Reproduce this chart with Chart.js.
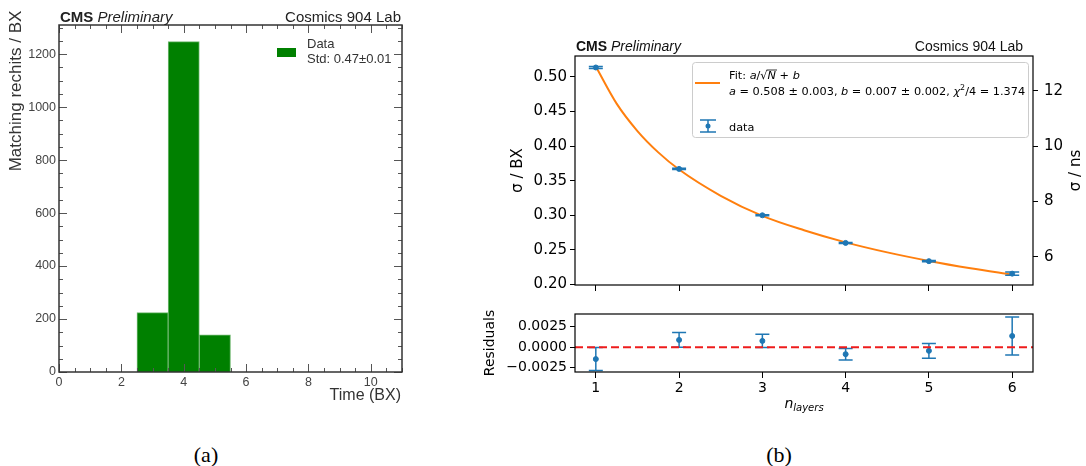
<!DOCTYPE html>
<html>
<head>
<meta charset="utf-8">
<script src="https://cdn.jsdelivr.net/npm/chart.js@4.4.0/dist/chart.umd.min.js"></script>
<style>
  body { margin: 0; background: #fff; width: 1086px; height: 466px; overflow: hidden; position: relative; }
  .box { position: absolute; }
  .cap { position: absolute; font-family: "Liberation Serif", serif; font-size: 22px; line-height: 22px; color: #000; transform: translateX(-50%); }
</style>
</head>
<body>
<div class="box" style="left:0;top:0;width:430px;height:420px"><canvas id="histo"></canvas></div>
<div class="box" style="left:470px;top:30px;width:616px;height:270px"><canvas id="sigma"></canvas></div>
<div class="box" style="left:470px;top:300px;width:616px;height:130px"><canvas id="resid"></canvas></div>
<div class="cap" style="left:206px;top:444px">(a)</div>
<div class="cap" style="left:779px;top:444px">(b)</div>

<script>
// (a) timing of matching rechits, one bin per BX
const binCentres = [3, 4, 5];
const binCounts = [224, 1247, 140];
const histXTicks = [0, 2, 4, 6, 8, 10];
const histYTicks = [0, 200, 400, 600, 800, 1000, 1200];

// (b) time resolution vs number of layers
const nLayers = [1, 2, 3, 4, 5, 6];
const sigmaBX = [0.5136, 0.3671, 0.3001, 0.2602, 0.2338, 0.2158];
const sigmaErr = [0.0014, 0.0009, 0.0008, 0.0007, 0.0009, 0.0023];
const residuals = [-0.00145, 0.00088, 0.00076, -0.00085, -0.00045, 0.00136];

// fit curve a/sqrt(N)+b
const fitX = [1, 1.25, 1.5, 1.75, 2, 2.5, 3, 3.5, 4, 4.5, 5, 5.5, 6];
const fitY = [0.5150, 0.4614, 0.4218, 0.3910, 0.3662, 0.3283, 0.2993, 0.2785, 0.2610, 0.2465, 0.2342, 0.2236, 0.2144];

// ticks and ranges
const nTicks = [1, 2, 3, 4, 5, 6];
const sigmaTicks = [0.20, 0.25, 0.30, 0.35, 0.40, 0.45, 0.50];
const nsTicks = [6, 8, 10, 12];
const residTicks = [-0.0025, 0, 0.0025];
const nRange = [0.75, 6.25];
const sigmaRange = [0.1994, 0.5302];
const residRange = [-0.00302, 0.00403];
const nsPerBX = 25;

Chart.defaults.animation = false;
Chart.defaults.devicePixelRatio = 1;

const MPL = '"DejaVu Sans"';
const ROOTF = '"Liberation Sans"';
const LEFT_B = 105; // width of the left axis column in panel (b)

function isStep(v, step) {
  return Math.abs(v / step - Math.round(v / step)) < 1e-6;
}
const setTicks = arr => s => { s.ticks = arr.map(v => ({ value: v })); };

// draw a row of text pieces with different fonts, returns end x
function textRun(ctx, x, y, parts) {
  for (const p of parts) {
    ctx.font = p.font;
    const dy = p.dy || 0;
    ctx.fillText(p.t, x, y + dy);
    const w = ctx.measureText(p.t).width;
    if (p.bar) {
      ctx.beginPath();
      ctx.lineWidth = 0.8;
      ctx.moveTo(x - 1, y - 9);
      ctx.lineTo(x + w + 1, y - 9);
      ctx.stroke();
    }
    x += w;
  }
  return x;
}

function errorBars(chart, meta, values, errs, capHalf) {
  const ctx = chart.ctx;
  const ys = chart.scales.y;
  ctx.save();
  ctx.strokeStyle = '#1f77b4';
  ctx.lineWidth = 1.5;
  meta.data.forEach((pt, i) => {
    const top = ys.getPixelForValue(values[i] + errs[i]);
    const bot = ys.getPixelForValue(values[i] - errs[i]);
    ctx.beginPath();
    ctx.moveTo(pt.x, top); ctx.lineTo(pt.x, bot);
    ctx.moveTo(pt.x - capHalf, top); ctx.lineTo(pt.x + capHalf, top);
    ctx.moveTo(pt.x - capHalf, bot); ctx.lineTo(pt.x + capHalf, bot);
    ctx.stroke();
  });
  ctx.restore();
}

// ---------- (a) histogram ----------
const histDecor = {
  id: 'histDecor',
  afterDraw(chart) {
    const { ctx, chartArea: a, scales: { x, y } } = chart;
    ctx.save();
    // ticks inside on all four sides
    ctx.strokeStyle = '#555';
    ctx.lineWidth = 1;
    ctx.beginPath();
    for (let v = 0; v <= x.max + 1e-9; v += 0.5) {
      const px = Math.round(x.getPixelForValue(v)) + 0.5;
      const len = isStep(v, 2) ? 8 : 4;
      ctx.moveTo(px, a.bottom); ctx.lineTo(px, a.bottom - len);
      ctx.moveTo(px, a.top); ctx.lineTo(px, a.top + len);
    }
    for (let v = 0; v <= y.max + 1e-9; v += 50) {
      const py = Math.round(y.getPixelForValue(v)) + 0.5;
      const len = isStep(v, 200) ? 8 : 4;
      ctx.moveTo(a.left, py); ctx.lineTo(a.left + len, py);
      ctx.moveTo(a.right, py); ctx.lineTo(a.right - len, py);
    }
    ctx.stroke();
    // frame
    ctx.strokeStyle = '#333';
    ctx.lineWidth = 1.5;
    ctx.strokeRect(a.left, a.top, a.right - a.left, a.bottom - a.top);

    // header
    ctx.fillStyle = '#222';
    ctx.textBaseline = 'alphabetic';
    ctx.textAlign = 'left';
    textRun(ctx, a.left + 1, a.top - 3, [
      { t: 'CMS', font: 'bold 15px ' + ROOTF },
      { t: ' Preliminary', font: 'italic 15px ' + ROOTF }
    ]);
    ctx.textAlign = 'right';
    ctx.font = '15px ' + ROOTF;
    ctx.fillText('Cosmics 904 Lab', a.right - 1, a.top - 3);

    // axis titles
    ctx.fillStyle = '#333';
    ctx.textBaseline = 'middle';
    ctx.font = '16px ' + ROOTF;
    ctx.textAlign = 'right';
    ctx.fillText('Time (BX)', a.right - 1, a.bottom + 24);
    ctx.save();
    ctx.translate(a.left - 43, a.top + 66);
    ctx.rotate(-Math.PI / 2);
    ctx.textAlign = 'center';
    ctx.font = '17px ' + ROOTF;
    ctx.fillText('Matching rechits / BX', 0, 0);
    ctx.restore();

    // legend
    ctx.fillStyle = '#008000';
    ctx.fillRect(a.left + 218, a.top + 23, 19, 9);
    ctx.fillStyle = '#333';
    ctx.textAlign = 'left';
    ctx.font = '13px ' + ROOTF;
    ctx.fillText('Data', a.left + 248, a.top + 19);
    ctx.fillText('Std: 0.47±0.01', a.left + 248, a.top + 34);
    ctx.restore();
  }
};

new Chart(document.getElementById('histo'), {
  type: 'bar',
  data: {
    datasets: [{
      data: binCentres.map((c, i) => ({ x: c, y: binCounts[i] })),
      backgroundColor: '#008000',
      borderColor: '#70b870',
      borderWidth: 1,
      barPercentage: 1,
      categoryPercentage: 1
    }]
  },
  options: {
    responsive: true,
    maintainAspectRatio: false,
    layout: { padding: { top: 25, right: 28, left: 0, bottom: 0 } },
    plugins: { legend: { display: false }, tooltip: { enabled: false } },
    scales: {
      x: {
        type: 'linear', min: 0, max: 11, offset: false,
        grid: { display: false, drawTicks: false, tickLength: 0 }, border: { display: false },
        ticks: { padding: 3, color: '#444', font: { family: 'Liberation Sans', size: 12.5 }, callback: v => String(v) },
        afterBuildTicks: setTicks(histXTicks),
        afterFit: s => { s.height = 48; }
      },
      y: {
        min: 0, max: 1310,
        grid: { display: false, drawTicks: false, tickLength: 0 }, border: { display: false },
        ticks: { padding: 3, color: '#444', font: { family: 'Liberation Sans', size: 12.5 }, callback: v => String(v) },
        afterBuildTicks: setTicks(histYTicks),
        afterFit: s => { s.width = 59; }
      }
    }
  },
  plugins: [histDecor]
});

// ---------- (b) upper: sigma vs n layers ----------
const sigmaDecor = {
  id: 'sigmaDecor',
  afterDatasetDraw(chart, args) {
    if (args.index === 0) errorBars(chart, args.meta, sigmaBX, sigmaErr, 7);
  },
  afterDraw(chart) {
    const { ctx, chartArea: a } = chart;
    ctx.save();
    ctx.strokeStyle = '#000';
    ctx.lineWidth = 1.2;
    ctx.strokeRect(a.left, a.top, a.right - a.left, a.bottom - a.top);

    // header
    ctx.fillStyle = '#111';
    ctx.textBaseline = 'alphabetic';
    ctx.textAlign = 'left';
    textRun(ctx, a.left + 1, a.top - 5, [
      { t: 'CMS', font: 'bold 14px ' + ROOTF },
      { t: ' Preliminary', font: 'italic 14px ' + ROOTF }
    ]);
    ctx.textAlign = 'right';
    ctx.font = '14px ' + ROOTF;
    ctx.fillText('Cosmics 904 Lab', a.right - 10, a.top - 5);

    // axis titles
    ctx.fillStyle = '#000';
    ctx.textAlign = 'center';
    ctx.textBaseline = 'middle';
    ctx.font = '15px ' + MPL;
    const cy = (a.top + a.bottom) / 2;
    ctx.save();
    ctx.translate(a.left - 57, cy);
    ctx.rotate(-Math.PI / 2);
    ctx.fillText('σ / BX', 0, 0);
    ctx.restore();
    ctx.save();
    ctx.translate(a.right + 43, cy);
    ctx.rotate(-Math.PI / 2);
    ctx.fillText('σ / ns', 0, 0);
    ctx.restore();

    // legend
    const lx = a.left + 117, ly = a.top + 6, lw = a.right - 5 - lx, lh = 75;
    ctx.fillStyle = 'rgba(255,255,255,0.85)';
    ctx.strokeStyle = '#cccccc';
    ctx.lineWidth = 1;
    ctx.beginPath();
    ctx.roundRect(lx + 0.5, ly + 0.5, lw, lh, 3);
    ctx.fill();
    ctx.stroke();

    ctx.strokeStyle = '#ff7f0e';
    ctx.lineWidth = 2;
    ctx.beginPath();
    ctx.moveTo(lx + 3, a.top + 27); ctx.lineTo(lx + 28, a.top + 27);
    ctx.stroke();

    ctx.fillStyle = '#000';
    ctx.strokeStyle = '#000';
    ctx.textAlign = 'left';
    ctx.textBaseline = 'alphabetic';
    const fs = 11.3;
    const nf = fs + 'px ' + MPL, itf = 'italic ' + fs + 'px ' + MPL, sup = (fs * 0.7) + 'px ' + MPL;
    const tx = lx + 37;
    textRun(ctx, tx, a.top + 23, [
      { t: 'Fit: ', font: nf }, { t: 'a', font: itf }, { t: '/√', font: nf },
      { t: 'N', font: itf, bar: true }, { t: ' + ', font: nf }, { t: 'b', font: itf }
    ]);
    textRun(ctx, tx, a.top + 39, [
      { t: 'a', font: itf }, { t: ' = 0.508 ± 0.003, ', font: nf },
      { t: 'b', font: itf }, { t: ' = 0.007 ± 0.002, ', font: nf },
      { t: 'χ', font: itf }, { t: '2', font: sup, dy: -5 }, { t: '/4 = 1.374', font: nf }
    ]);
    ctx.font = nf;
    ctx.fillText('data', tx, a.top + 75);

    // errorbar legend symbol
    const ex = lx + 16;
    ctx.strokeStyle = '#1f77b4';
    ctx.fillStyle = '#1f77b4';
    ctx.lineWidth = 1.5;
    ctx.beginPath();
    ctx.moveTo(ex, a.top + 64); ctx.lineTo(ex, a.top + 76);
    ctx.moveTo(ex - 8, a.top + 64); ctx.lineTo(ex + 8, a.top + 64);
    ctx.moveTo(ex - 8, a.top + 76); ctx.lineTo(ex + 8, a.top + 76);
    ctx.stroke();
    ctx.beginPath();
    ctx.arc(ex, a.top + 70, 2.5, 0, Math.PI * 2);
    ctx.fill();
    ctx.restore();
  }
};

const tickFontB = { family: 'DejaVu Sans', size: 15 };

new Chart(document.getElementById('sigma'), {
  type: 'scatter',
  data: {
    datasets: [
      {
        data: nLayers.map((n, i) => ({ x: n, y: sigmaBX[i] })),
        backgroundColor: '#1f77b4', borderColor: '#1f77b4',
        pointRadius: 2.5, showLine: false
      },
      {
        type: 'line',
        data: fitX.map((n, i) => ({ x: n, y: fitY[i] })),
        borderColor: '#ff7f0e', borderWidth: 2, pointRadius: 0,
        cubicInterpolationMode: 'monotone', fill: false
      }
    ]
  },
  options: {
    responsive: true,
    maintainAspectRatio: false,
    layout: { padding: { top: 26, right: 0, left: 0, bottom: 0 } },
    plugins: { legend: { display: false }, tooltip: { enabled: false } },
    scales: {
      x: {
        type: 'linear', min: nRange[0], max: nRange[1],
        grid: { drawOnChartArea: false, tickLength: 6, color: '#000' }, border: { display: false },
        ticks: { display: false },
        afterBuildTicks: setTicks(nTicks),
        afterFit: s => { s.height = 11; }
      },
      y: {
        min: sigmaRange[0], max: sigmaRange[1],
        grid: { drawOnChartArea: false, tickLength: 5, color: '#000' }, border: { display: false },
        ticks: { padding: 3, color: '#000', font: tickFontB, callback: v => v.toFixed(2) },
        afterBuildTicks: setTicks(sigmaTicks),
        afterFit: s => { s.width = LEFT_B; }
      },
      y2: {
        position: 'right',
        min: sigmaRange[0] * nsPerBX, max: sigmaRange[1] * nsPerBX,
        grid: { drawOnChartArea: false, tickLength: 5, color: '#000' }, border: { display: false },
        ticks: { padding: 6, color: '#000', font: tickFontB, callback: v => String(v) },
        afterBuildTicks: setTicks(nsTicks),
        afterFit: s => { s.width = 53; }
      }
    }
  },
  plugins: [sigmaDecor]
});

// ---------- (b) lower: residuals ----------
const residDecor = {
  id: 'residDecor',
  afterDatasetDraw(chart, args) {
    if (args.index === 1) errorBars(chart, args.meta, residuals, sigmaErr, 7);
  },
  afterDraw(chart) {
    const { ctx, chartArea: a } = chart;
    ctx.save();
    ctx.strokeStyle = '#000';
    ctx.lineWidth = 1.2;
    ctx.strokeRect(a.left, a.top, a.right - a.left, a.bottom - a.top);

    ctx.fillStyle = '#000';
    ctx.textBaseline = 'middle';
    ctx.textAlign = 'center';
    ctx.font = '14px ' + MPL;
    ctx.save();
    ctx.translate(a.left - 85, (a.top + a.bottom) / 2);
    ctx.rotate(-Math.PI / 2);
    ctx.fillText('Residuals', 0, 0);
    ctx.restore();

    // x title n_layers
    ctx.textAlign = 'left';
    ctx.textBaseline = 'alphabetic';
    ctx.font = 'italic 14px ' + MPL;
    const wn = ctx.measureText('n').width;
    ctx.font = 'italic 10px ' + MPL;
    const ws = ctx.measureText('layers').width;
    const x0 = (a.left + a.right) / 2 - (wn + ws) / 2;
    textRun(ctx, x0, a.bottom + 36, [
      { t: 'n', font: 'italic 14px ' + MPL },
      { t: 'layers', font: 'italic 10px ' + MPL, dy: 3 }
    ]);
    ctx.restore();
  }
};

new Chart(document.getElementById('resid'), {
  type: 'scatter',
  data: {
    datasets: [
      {
        type: 'line',
        data: nRange.map(n => ({ x: n, y: 0 })),
        borderColor: '#ee1c1c', borderWidth: 2, borderDash: [8, 4], pointRadius: 0, fill: false
      },
      {
        data: nLayers.map((n, i) => ({ x: n, y: residuals[i] })),
        backgroundColor: '#1f77b4', borderColor: '#1f77b4',
        pointRadius: 2.5, showLine: false
      }
    ]
  },
  options: {
    responsive: true,
    maintainAspectRatio: false,
    layout: { padding: { top: 14, right: 53, left: 0, bottom: 0 } },
    plugins: { legend: { display: false }, tooltip: { enabled: false } },
    scales: {
      x: {
        type: 'linear', min: nRange[0], max: nRange[1],
        grid: { drawOnChartArea: false, tickLength: 6, color: '#000' }, border: { display: false },
        ticks: { padding: 2, color: '#000', font: { family: 'DejaVu Sans', size: 14 }, callback: v => String(v) },
        afterBuildTicks: setTicks(nTicks),
        afterFit: s => { s.height = 58; }
      },
      y: {
        min: residRange[0], max: residRange[1],
        grid: { drawOnChartArea: false, tickLength: 5, color: '#000' }, border: { display: false },
        ticks: { padding: 3, color: '#000', font: { family: 'DejaVu Sans', size: 14 },
          callback: v => (v < -1e-9 ? '\u2212' : '') + Math.abs(v).toFixed(4) },
        afterBuildTicks: setTicks(residTicks),
        afterFit: s => { s.width = LEFT_B; }
      }
    }
  },
  plugins: [residDecor]
});
</script>
</body>
</html>
